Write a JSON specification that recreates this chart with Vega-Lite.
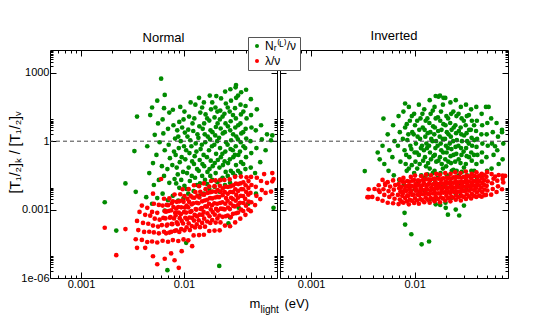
{
"$schema":"https://vega.github.io/schema/vega-lite/v6.json",
"background":"white",
"padding":{"left":7,"top":29,"right":0,"bottom":0},
"spacing":0,
"config":{"font":"Liberation Sans","view":{"stroke":"black","strokeWidth":1},
"axis":{"domain":false,"grid":false,"tickColor":"black","tickWidth":1,"labelFontSize":11,"labelColor":"black","titleColor":"black","titleFontWeight":"normal","labelOverlap":false,"labelFlush":false},
"title":{"fontSize":13,"fontWeight":"normal","color":"black"},
"legend":{"symbolType":"circle","symbolStrokeWidth":0,"symbolSize":16,"labelFontSize":12,"labelColor":"black","fillColor":"white","strokeColor":"#555","padding":3,"rowPadding":3,"labelOffset":2}},
"datasets":{
"normal":[
{"s":"N","x":0.0017,"y":0.0021},{"s":"N","x":0.0022,"y":0.00012},{"s":"N","x":0.0027,"y":0.014},{"s":"N","x":0.0069,"y":2.2e-6},{"s":"N","x":0.022,"y":3.4e-6},{"s":"N","x":0.006,"y":550},{"s":"N","x":0.032,"y":290},{"s":"N","x":0.0065,"y":107},{"s":"N","x":0.074,"y":0.0012},{"s":"N","x":0.0034,"y":0.006},{"s":"N","x":0.0035,"y":12},{"s":"N","x":0.0033,"y":0.37},
{"s":"N","x":0.027,"y":2.5e-4},{"s":"N","x":0.028,"y":4.5e-4},{"s":"N","x":0.0105,"y":3.5e-5},{"s":"N","x":0.034,"y":1.2e-3},{"s":"N","x":0.042,"y":0.0018},{"s":"N","x":0.0065,"y":0.0009},{"s":"N","x":0.05,"y":0.005},
{"s":"N","x":0.0043,"y":0.0035},{"s":"N","x":0.0046,"y":0.04},{"s":"N","x":0.0044,"y":0.6},{"s":"N","x":0.0047,"y":14},
{"s":"N","x":0.0049,"y":0.0018},{"s":"N","x":0.0051,"y":0.012},{"s":"N","x":0.005,"y":0.11},{"s":"N","x":0.0052,"y":1.9},{"s":"N","x":0.0049,"y":30},
{"s":"N","x":0.0055,"y":0.0032},{"s":"N","x":0.0057,"y":0.02},{"s":"N","x":0.0054,"y":0.25},{"s":"N","x":0.0058,"y":0.9},{"s":"N","x":0.0056,"y":6},{"s":"N","x":0.0055,"y":60},
{"s":"N","x":0.0062,"y":0.005},{"s":"N","x":0.0064,"y":0.03},{"s":"N","x":0.0061,"y":0.08},{"s":"N","x":0.0065,"y":0.4},{"s":"N","x":0.0063,"y":2.2},{"s":"N","x":0.0062,"y":9},{"s":"N","x":0.0064,"y":28},
{"s":"N","x":0.007,"y":0.0026},{"s":"N","x":0.0072,"y":0.015},{"s":"N","x":0.0069,"y":0.06},{"s":"N","x":0.0073,"y":0.18},{"s":"N","x":0.0071,"y":0.7},{"s":"N","x":0.007,"y":3.5},{"s":"N","x":0.0072,"y":18},
{"s":"N","x":0.0078,"y":0.004},{"s":"N","x":0.0081,"y":0.022},{"s":"N","x":0.0077,"y":0.09},{"s":"N","x":0.008,"y":0.35},{"s":"N","x":0.0082,"y":1.3},{"s":"N","x":0.0079,"y":5},{"s":"N","x":0.0078,"y":24},
{"s":"N","x":0.0088,"y":0.0025},{"s":"N","x":0.009,"y":0.009},{"s":"N","x":0.0087,"y":0.035},{"s":"N","x":0.0091,"y":0.12},{"s":"N","x":0.0089,"y":0.5},{"s":"N","x":0.0088,"y":1.6},{"s":"N","x":0.009,"y":7},{"s":"N","x":0.0092,"y":32},
{"s":"N","x":0.0099,"y":0.0032},{"s":"N","x":0.0101,"y":0.011},{"s":"N","x":0.0098,"y":0.045},{"s":"N","x":0.0103,"y":0.16},{"s":"N","x":0.01,"y":0.6},{"s":"N","x":0.0102,"y":2.4},{"s":"N","x":0.0099,"y":9},{"s":"N","x":0.0101,"y":20},
{"s":"N","x":0.011,"y":0.005},{"s":"N","x":0.0114,"y":0.018},{"s":"N","x":0.0111,"y":0.07},{"s":"N","x":0.0113,"y":0.3},{"s":"N","x":0.0115,"y":1.1},{"s":"N","x":0.011,"y":3.2},{"s":"N","x":0.0112,"y":12},{"s":"N","x":0.0116,"y":50},
{"s":"N","x":0.0124,"y":0.0065},{"s":"N","x":0.0128,"y":0.025},{"s":"N","x":0.0125,"y":0.1},{"s":"N","x":0.0127,"y":0.22},{"s":"N","x":0.013,"y":0.8},{"s":"N","x":0.0123,"y":2.8},{"s":"N","x":0.0126,"y":10},{"s":"N","x":0.0129,"y":40},
{"s":"N","x":0.014,"y":0.004},{"s":"N","x":0.0143,"y":0.014},{"s":"N","x":0.0139,"y":0.05},{"s":"N","x":0.0142,"y":0.15},{"s":"N","x":0.0145,"y":0.45},{"s":"N","x":0.0138,"y":1.4},{"s":"N","x":0.0141,"y":4.5},{"s":"N","x":0.0144,"y":18},{"s":"N","x":0.014,"y":80},
{"s":"N","x":0.0156,"y":0.005},{"s":"N","x":0.016,"y":0.02},{"s":"N","x":0.0157,"y":0.08},{"s":"N","x":0.0155,"y":0.25},{"s":"N","x":0.0161,"y":0.9},{"s":"N","x":0.0159,"y":2},{"s":"N","x":0.0157,"y":6},{"s":"N","x":0.0162,"y":15},{"s":"N","x":0.0156,"y":50},
{"s":"N","x":0.0176,"y":0.008},{"s":"N","x":0.018,"y":0.03},{"s":"N","x":0.0177,"y":0.06},{"s":"N","x":0.0182,"y":0.14},{"s":"N","x":0.0175,"y":0.4},{"s":"N","x":0.0179,"y":1.2},{"s":"N","x":0.0181,"y":3},{"s":"N","x":0.0176,"y":8},{"s":"N","x":0.0183,"y":25},{"s":"N","x":0.0178,"y":100},
{"s":"N","x":0.0198,"y":0.01},{"s":"N","x":0.0203,"y":0.04},{"s":"N","x":0.0199,"y":0.11},{"s":"N","x":0.0205,"y":0.28},{"s":"N","x":0.0197,"y":0.7},{"s":"N","x":0.0201,"y":1.8},{"s":"N","x":0.0204,"y":4.2},{"s":"N","x":0.0198,"y":11},{"s":"N","x":0.0202,"y":30},{"s":"N","x":0.0206,"y":95},
{"s":"N","x":0.0222,"y":0.006},{"s":"N","x":0.0226,"y":0.02},{"s":"N","x":0.0221,"y":0.07},{"s":"N","x":0.0228,"y":0.2},{"s":"N","x":0.0224,"y":0.5},{"s":"N","x":0.0219,"y":1.4},{"s":"N","x":0.0227,"y":3.6},{"s":"N","x":0.0223,"y":9},{"s":"N","x":0.0225,"y":22},{"s":"N","x":0.0229,"y":75},
{"s":"N","x":0.025,"y":0.012},{"s":"N","x":0.0254,"y":0.045},{"s":"N","x":0.0248,"y":0.13},{"s":"N","x":0.0252,"y":0.35},{"s":"N","x":0.0256,"y":0.9},{"s":"N","x":0.0249,"y":2.5},{"s":"N","x":0.0253,"y":6},{"s":"N","x":0.0247,"y":16},{"s":"N","x":0.0255,"y":45},{"s":"N","x":0.0251,"y":150},
{"s":"N","x":0.028,"y":0.015},{"s":"N","x":0.0285,"y":0.05},{"s":"N","x":0.0279,"y":0.16},{"s":"N","x":0.0283,"y":0.45},{"s":"N","x":0.0287,"y":1.1},{"s":"N","x":0.0281,"y":3},{"s":"N","x":0.0284,"y":7.5},{"s":"N","x":0.0278,"y":20},{"s":"N","x":0.0286,"y":60},{"s":"N","x":0.0282,"y":190},
{"s":"N","x":0.0314,"y":0.03},{"s":"N","x":0.032,"y":0.09},{"s":"N","x":0.0312,"y":0.25},{"s":"N","x":0.0318,"y":0.6},{"s":"N","x":0.0322,"y":1.6},{"s":"N","x":0.0315,"y":4},{"s":"N","x":0.0319,"y":10},{"s":"N","x":0.0313,"y":28},{"s":"N","x":0.0321,"y":80},{"s":"N","x":0.0317,"y":230},
{"s":"N","x":0.0352,"y":0.04},{"s":"N","x":0.0358,"y":0.12},{"s":"N","x":0.035,"y":0.35},{"s":"N","x":0.0356,"y":0.9},{"s":"N","x":0.036,"y":2.2},{"s":"N","x":0.0353,"y":6},{"s":"N","x":0.0357,"y":15},{"s":"N","x":0.0354,"y":40},{"s":"N","x":0.0359,"y":140},
{"s":"N","x":0.0395,"y":0.06},{"s":"N","x":0.04,"y":0.2},{"s":"N","x":0.0393,"y":0.5},{"s":"N","x":0.0402,"y":1.3},{"s":"N","x":0.0397,"y":3.5},{"s":"N","x":0.0405,"y":10},{"s":"N","x":0.0396,"y":35},{"s":"N","x":0.0401,"y":180},
{"s":"N","x":0.0445,"y":0.07},{"s":"N","x":0.045,"y":0.3},{"s":"N","x":0.0442,"y":1},{"s":"N","x":0.0452,"y":4},{"s":"N","x":0.0448,"y":14},{"s":"N","x":0.0446,"y":70},
{"s":"N","x":0.049,"y":0.04},{"s":"N","x":0.0505,"y":0.5},{"s":"N","x":0.0498,"y":3},{"s":"N","x":0.051,"y":25},
{"s":"N","x":0.055,"y":0.12},{"s":"N","x":0.057,"y":1.2},{"s":"N","x":0.056,"y":5},
{"s":"N","x":0.062,"y":0.4},{"s":"N","x":0.064,"y":2},{"s":"N","x":0.07,"y":1.1},{"s":"N","x":0.072,"y":1.8},
{"s":"N","x":0.0084,"y":0.014},{"s":"N","x":0.0085,"y":0.07},{"s":"N","x":0.0083,"y":0.25},{"s":"N","x":0.0086,"y":3},
{"s":"N","x":0.0094,"y":0.02},{"s":"N","x":0.0095,"y":0.2},{"s":"N","x":0.0093,"y":1.0},{"s":"N","x":0.0096,"y":4},
{"s":"N","x":0.0106,"y":0.008},{"s":"N","x":0.0107,"y":0.04},{"s":"N","x":0.0105,"y":0.4},{"s":"N","x":0.0108,"y":1.6},
{"s":"N","x":0.0119,"y":0.03},{"s":"N","x":0.012,"y":0.13},{"s":"N","x":0.0118,"y":0.6},{"s":"N","x":0.0121,"y":6},
{"s":"N","x":0.0133,"y":0.012},{"s":"N","x":0.0134,"y":0.06},{"s":"N","x":0.0132,"y":0.35},{"s":"N","x":0.0135,"y":2},
{"s":"N","x":0.015,"y":0.03},{"s":"N","x":0.0151,"y":0.1},{"s":"N","x":0.0149,"y":0.7},{"s":"N","x":0.0152,"y":3.5},{"s":"N","x":0.015,"y":30},
{"s":"N","x":0.0168,"y":0.013},{"s":"N","x":0.0169,"y":0.045},{"s":"N","x":0.0167,"y":0.2},{"s":"N","x":0.017,"y":1.6},{"s":"N","x":0.0168,"y":10},
{"s":"N","x":0.0188,"y":0.02},{"s":"N","x":0.019,"y":0.08},{"s":"N","x":0.0187,"y":0.6},{"s":"N","x":0.0189,"y":2.5},{"s":"N","x":0.0188,"y":50},
{"s":"N","x":0.0211,"y":0.016},{"s":"N","x":0.0213,"y":0.15},{"s":"N","x":0.021,"y":1.0},{"s":"N","x":0.0212,"y":6},{"s":"N","x":0.0211,"y":20},
{"s":"N","x":0.0237,"y":0.025},{"s":"N","x":0.0239,"y":0.09},{"s":"N","x":0.0236,"y":0.28},{"s":"N","x":0.0238,"y":2.2},{"s":"N","x":0.0237,"y":12},
{"s":"N","x":0.0266,"y":0.03},{"s":"N","x":0.0268,"y":0.11},{"s":"N","x":0.0265,"y":0.7},{"s":"N","x":0.0267,"y":4.5},{"s":"N","x":0.0266,"y":30},
{"s":"N","x":0.0299,"y":0.04},{"s":"N","x":0.0301,"y":0.2},{"s":"N","x":0.0298,"y":0.4},{"s":"N","x":0.03,"y":2},{"s":"N","x":0.0299,"y":14},
{"s":"N","x":0.0335,"y":0.05},{"s":"N","x":0.0337,"y":0.25},{"s":"N","x":0.0334,"y":1.2},{"s":"N","x":0.0336,"y":5},{"s":"N","x":0.0335,"y":100},
{"s":"N","x":0.0376,"y":0.1},{"s":"N","x":0.0378,"y":0.6},{"s":"N","x":0.0375,"y":2.5},{"s":"N","x":0.0377,"y":20},
{"s":"L","x":0.0034,"y":5.0e-5},{"s":"L","x":0.0036,"y":1.26e-4},{"s":"L","x":0.0035,"y":3.2e-4},{"s":"L","x":0.0037,"y":7.9e-4},
{"s":"L","x":0.0039,"y":4.7e-5},{"s":"L","x":0.0041,"y":1.05e-4},{"s":"L","x":0.004,"y":2.6e-4},{"s":"L","x":0.0042,"y":5.9e-4},{"s":"L","x":0.0039,"y":1.5e-3},
{"s":"L","x":0.0044,"y":3.8e-5},{"s":"L","x":0.0046,"y":1.07e-4},{"s":"L","x":0.0045,"y":2.4e-4},{"s":"L","x":0.0047,"y":5.4e-4},{"s":"L","x":0.0044,"y":1.2e-3},
{"s":"L","x":0.0049,"y":4.0e-5},{"s":"L","x":0.0051,"y":1.0e-4},{"s":"L","x":0.005,"y":2.0e-4},{"s":"L","x":0.0052,"y":4.0e-4},{"s":"L","x":0.0049,"y":7.9e-4},{"s":"L","x":0.0051,"y":1.8e-3},
{"s":"L","x":0.0055,"y":3.6e-5},{"s":"L","x":0.0057,"y":9.1e-5},{"s":"L","x":0.0056,"y":1.8e-4},{"s":"L","x":0.0058,"y":3.6e-4},{"s":"L","x":0.0055,"y":7.2e-4},{"s":"L","x":0.0057,"y":1.6e-3},
{"s":"L","x":0.0062,"y":4.3e-5},{"s":"L","x":0.0064,"y":1.07e-4},{"s":"L","x":0.0061,"y":2.1e-4},{"s":"L","x":0.0063,"y":4.3e-4},{"s":"L","x":0.0065,"y":8.5e-4},{"s":"L","x":0.0062,"y":1.5e-3},{"s":"L","x":0.0064,"y":3.0e-3},
{"s":"L","x":0.007,"y":3.9e-5},{"s":"L","x":0.0072,"y":9.8e-5},{"s":"L","x":0.0069,"y":2.2e-4},{"s":"L","x":0.0073,"y":4.4e-4},{"s":"L","x":0.0071,"y":8.7e-4},{"s":"L","x":0.007,"y":1.55e-3},{"s":"L","x":0.0072,"y":3.1e-3},
{"s":"L","x":0.0078,"y":4.6e-5},{"s":"L","x":0.0081,"y":1.15e-4},{"s":"L","x":0.0077,"y":2.3e-4},{"s":"L","x":0.008,"y":4.1e-4},{"s":"L","x":0.0082,"y":7.2e-4},{"s":"L","x":0.0079,"y":1.3e-3},{"s":"L","x":0.0078,"y":2.3e-3},{"s":"L","x":0.0081,"y":4.6e-3},
{"s":"L","x":0.0088,"y":4.2e-5},{"s":"L","x":0.009,"y":1.05e-4},{"s":"L","x":0.0087,"y":2.3e-4},{"s":"L","x":0.0091,"y":4.2e-4},{"s":"L","x":0.0089,"y":7.4e-4},{"s":"L","x":0.0088,"y":1.3e-3},{"s":"L","x":0.009,"y":2.3e-3},{"s":"L","x":0.0092,"y":4.7e-3},
{"s":"L","x":0.0099,"y":4.9e-5},{"s":"L","x":0.0101,"y":1.23e-4},{"s":"L","x":0.0098,"y":2.45e-4},{"s":"L","x":0.0103,"y":4.4e-4},{"s":"L","x":0.01,"y":7.8e-4},{"s":"L","x":0.0102,"y":1.23e-3},{"s":"L","x":0.0099,"y":2.2e-3},{"s":"L","x":0.0101,"y":3.9e-3},{"s":"L","x":0.0097,"y":7.8e-3},
{"s":"L","x":0.011,"y":4.5e-5},{"s":"L","x":0.0114,"y":1.26e-4},{"s":"L","x":0.0111,"y":2.5e-4},{"s":"L","x":0.0113,"y":4.5e-4},{"s":"L","x":0.0115,"y":7.9e-4},{"s":"L","x":0.011,"y":1.26e-3},{"s":"L","x":0.0112,"y":2.2e-3},{"s":"L","x":0.0116,"y":4.0e-3},{"s":"L","x":0.0111,"y":7.9e-3},
{"s":"L","x":0.0124,"y":7.4e-5},{"s":"L","x":0.0128,"y":1.66e-4},{"s":"L","x":0.0125,"y":3.3e-4},{"s":"L","x":0.0127,"y":5.9e-4},{"s":"L","x":0.013,"y":1.05e-3},{"s":"L","x":0.0123,"y":1.9e-3},{"s":"L","x":0.0126,"y":3.3e-3},{"s":"L","x":0.0129,"y":5.9e-3},{"s":"L","x":0.0125,"y":1.17e-2},
{"s":"L","x":0.014,"y":7.6e-5},{"s":"L","x":0.0143,"y":1.7e-4},{"s":"L","x":0.0139,"y":3.4e-4},{"s":"L","x":0.0142,"y":6.0e-4},{"s":"L","x":0.0145,"y":1.07e-3},{"s":"L","x":0.0138,"y":1.9e-3},{"s":"L","x":0.0141,"y":3.4e-3},{"s":"L","x":0.0144,"y":6.0e-3},{"s":"L","x":0.014,"y":1.07e-2},
{"s":"L","x":0.0156,"y":7.9e-5},{"s":"L","x":0.016,"y":1.78e-4},{"s":"L","x":0.0157,"y":4.0e-4},{"s":"L","x":0.0155,"y":7.9e-4},{"s":"L","x":0.0161,"y":1.4e-3},{"s":"L","x":0.0159,"y":2.5e-3},{"s":"L","x":0.0157,"y":4.5e-3},{"s":"L","x":0.0162,"y":7.9e-3},{"s":"L","x":0.0156,"y":1.4e-2},
{"s":"L","x":0.0176,"y":1.15e-4},{"s":"L","x":0.018,"y":2.6e-4},{"s":"L","x":0.0177,"y":5.1e-4},{"s":"L","x":0.0182,"y":1.02e-3},{"s":"L","x":0.0175,"y":1.8e-3},{"s":"L","x":0.0179,"y":3.2e-3},{"s":"L","x":0.0181,"y":5.8e-3},{"s":"L","x":0.0176,"y":1.02e-2},{"s":"L","x":0.0183,"y":1.8e-2},
{"s":"L","x":0.0198,"y":1.2e-4},{"s":"L","x":0.0203,"y":2.7e-4},{"s":"L","x":0.0199,"y":6.0e-4},{"s":"L","x":0.0205,"y":1.07e-3},{"s":"L","x":0.0197,"y":1.9e-3},{"s":"L","x":0.0201,"y":3.4e-3},{"s":"L","x":0.0204,"y":6.0e-3},{"s":"L","x":0.0198,"y":1.07e-2},{"s":"L","x":0.0202,"y":1.9e-2},
{"s":"L","x":0.0222,"y":1.23e-4},{"s":"L","x":0.0226,"y":2.75e-4},{"s":"L","x":0.0221,"y":5.5e-4},{"s":"L","x":0.0228,"y":1.1e-3},{"s":"L","x":0.0224,"y":1.95e-3},{"s":"L","x":0.0219,"y":3.5e-3},{"s":"L","x":0.0227,"y":6.2e-3},{"s":"L","x":0.0223,"y":1.1e-2},{"s":"L","x":0.0225,"y":1.95e-2},
{"s":"L","x":0.025,"y":2.0e-4},{"s":"L","x":0.0254,"y":5.1e-4},{"s":"L","x":0.0248,"y":1.02e-3},{"s":"L","x":0.0252,"y":1.8e-3},{"s":"L","x":0.0256,"y":3.2e-3},{"s":"L","x":0.0249,"y":5.8e-3},{"s":"L","x":0.0253,"y":1.02e-2},{"s":"L","x":0.0247,"y":2.0e-2},
{"s":"L","x":0.028,"y":1.86e-4},{"s":"L","x":0.0285,"y":4.7e-4},{"s":"L","x":0.0279,"y":1.05e-3},{"s":"L","x":0.0283,"y":1.86e-3},{"s":"L","x":0.0287,"y":3.3e-3},{"s":"L","x":0.0281,"y":5.9e-3},{"s":"L","x":0.0284,"y":1.05e-2},{"s":"L","x":0.0278,"y":2.1e-2},
{"s":"L","x":0.0314,"y":2.75e-4},{"s":"L","x":0.032,"y":6.9e-4},{"s":"L","x":0.0312,"y":1.38e-3},{"s":"L","x":0.0318,"y":2.45e-3},{"s":"L","x":0.0322,"y":4.4e-3},{"s":"L","x":0.0315,"y":7.8e-3},{"s":"L","x":0.0319,"y":1.38e-2},{"s":"L","x":0.0313,"y":2.75e-2},
{"s":"L","x":0.0352,"y":4.0e-4},{"s":"L","x":0.0358,"y":1.0e-3},{"s":"L","x":0.035,"y":2.0e-3},{"s":"L","x":0.0356,"y":4.0e-3},{"s":"L","x":0.036,"y":7.9e-3},{"s":"L","x":0.0353,"y":1.41e-2},{"s":"L","x":0.0357,"y":2.8e-2},
{"s":"L","x":0.0395,"y":5.9e-4},{"s":"L","x":0.04,"y":1.48e-3},{"s":"L","x":0.0393,"y":2.95e-3},{"s":"L","x":0.0402,"y":5.9e-3},{"s":"L","x":0.0397,"y":1.17e-2},{"s":"L","x":0.0405,"y":2.6e-2},
{"s":"L","x":0.0445,"y":8.5e-4},{"s":"L","x":0.045,"y":2.1e-3},{"s":"L","x":0.0442,"y":5.4e-3},{"s":"L","x":0.0452,"y":1.2e-2},{"s":"L","x":0.0448,"y":2.7e-2},
{"s":"L","x":0.049,"y":1.58e-3},{"s":"L","x":0.0505,"y":4.0e-3},{"s":"L","x":0.0498,"y":1.0e-2},{"s":"L","x":0.051,"y":2.5e-2},
{"s":"L","x":0.055,"y":2.9e-3},{"s":"L","x":0.057,"y":7.2e-3},{"s":"L","x":0.056,"y":1.8e-2},
{"s":"L","x":0.062,"y":5.4e-3},{"s":"L","x":0.064,"y":1.5e-2},{"s":"L","x":0.07,"y":6.2e-3},{"s":"L","x":0.072,"y":1.74e-2},
{"s":"L","x":0.0017,"y":1.6e-4},{"s":"L","x":0.0027,"y":1.4e-4},{"s":"L","x":0.0022,"y":1e-5},{"s":"L","x":0.0035,"y":2.1e-5},{"s":"L","x":0.0089,"y":2.8e-6},{"s":"L","x":0.06,"y":0.036},{"s":"L","x":0.0042,"y":2.1e-5},{"s":"L","x":0.005,"y":9e-6},{"s":"L","x":0.0055,"y":4e-6},{"s":"L","x":0.0065,"y":7e-6},{"s":"L","x":0.0075,"y":1.2e-5},{"s":"L","x":0.0081,"y":6e-6},{"s":"L","x":0.0095,"y":1.5e-5},{"s":"L","x":0.012,"y":2.5e-5},{"s":"L","x":0.006,"y":0.022},{"s":"L","x":0.005,"y":0.005},{"s":"L","x":0.074,"y":0.022},{"s":"L","x":0.072,"y":0.04},
{"s":"L","x":0.0067,"y":9.1e-5},{"s":"L","x":0.0068,"y":2.0e-4},{"s":"L","x":0.0066,"y":4.1e-4},{"s":"L","x":0.0067,"y":8.1e-4},{"s":"L","x":0.0068,"y":1.6e-3},
{"s":"L","x":0.0075,"y":1.05e-4},{"s":"L","x":0.0076,"y":2.35e-4},{"s":"L","x":0.0074,"y":4.7e-4},{"s":"L","x":0.0075,"y":9.3e-4},{"s":"L","x":0.0076,"y":1.9e-3},
{"s":"L","x":0.0084,"y":1.23e-4},{"s":"L","x":0.0085,"y":2.75e-4},{"s":"L","x":0.0083,"y":5.5e-4},{"s":"L","x":0.0084,"y":1.1e-3},{"s":"L","x":0.0085,"y":2.2e-3},
{"s":"L","x":0.0094,"y":1.41e-4},{"s":"L","x":0.0095,"y":3.2e-4},{"s":"L","x":0.0093,"y":6.3e-4},{"s":"L","x":0.0094,"y":1.26e-3},{"s":"L","x":0.0096,"y":2.5e-3},
{"s":"L","x":0.0106,"y":1.66e-4},{"s":"L","x":0.0107,"y":3.7e-4},{"s":"L","x":0.0105,"y":7.4e-4},{"s":"L","x":0.0106,"y":1.48e-3},{"s":"L","x":0.0108,"y":2.95e-3},
{"s":"L","x":0.0119,"y":1.9e-4},{"s":"L","x":0.012,"y":4.3e-4},{"s":"L","x":0.0118,"y":8.5e-4},{"s":"L","x":0.0119,"y":1.7e-3},{"s":"L","x":0.0121,"y":3.4e-3},
{"s":"L","x":0.0133,"y":2.24e-4},{"s":"L","x":0.0134,"y":5.0e-4},{"s":"L","x":0.0132,"y":1.0e-3},{"s":"L","x":0.0133,"y":2.0e-3},{"s":"L","x":0.0135,"y":4.0e-3},
{"s":"L","x":0.015,"y":2.6e-4},{"s":"L","x":0.0151,"y":5.8e-4},{"s":"L","x":0.0149,"y":1.15e-3},{"s":"L","x":0.015,"y":2.3e-3},{"s":"L","x":0.0152,"y":4.6e-3},
{"s":"L","x":0.0168,"y":3.0e-4},{"s":"L","x":0.0169,"y":6.8e-4},{"s":"L","x":0.0167,"y":1.35e-3},{"s":"L","x":0.0168,"y":2.7e-3},{"s":"L","x":0.017,"y":5.4e-3},
{"s":"L","x":0.0188,"y":3.5e-4},{"s":"L","x":0.019,"y":7.8e-4},{"s":"L","x":0.0187,"y":1.55e-3},{"s":"L","x":0.0188,"y":3.1e-3},{"s":"L","x":0.0189,"y":6.2e-3},
{"s":"L","x":0.0211,"y":4.1e-4},{"s":"L","x":0.0213,"y":9.1e-4},{"s":"L","x":0.021,"y":1.8e-3},{"s":"L","x":0.0211,"y":3.6e-3},{"s":"L","x":0.0212,"y":7.2e-3},
{"s":"L","x":0.0237,"y":4.8e-4},{"s":"L","x":0.0239,"y":1.07e-3},{"s":"L","x":0.0236,"y":2.1e-3},{"s":"L","x":0.0237,"y":4.3e-3},{"s":"L","x":0.0238,"y":8.5e-3},
{"s":"L","x":0.0266,"y":5.5e-4},{"s":"L","x":0.0268,"y":1.23e-3},{"s":"L","x":0.0265,"y":2.45e-3},{"s":"L","x":0.0266,"y":4.9e-3},{"s":"L","x":0.0267,"y":9.8e-3},
{"s":"L","x":0.0299,"y":6.5e-4},{"s":"L","x":0.0301,"y":1.45e-3},{"s":"L","x":0.0298,"y":2.9e-3},{"s":"L","x":0.0299,"y":5.8e-3},{"s":"L","x":0.03,"y":1.15e-2},
{"s":"L","x":0.0335,"y":7.4e-4},{"s":"L","x":0.0337,"y":1.66e-3},{"s":"L","x":0.0334,"y":3.3e-3},{"s":"L","x":0.0335,"y":6.6e-3},{"s":"L","x":0.0336,"y":1.32e-2},
{"s":"L","x":0.0376,"y":8.7e-4},{"s":"L","x":0.0378,"y":1.95e-3},{"s":"L","x":0.0375,"y":3.9e-3},{"s":"L","x":0.0376,"y":7.8e-3},{"s":"L","x":0.0377,"y":1.55e-2},
{"s":"L","x":0.0422,"y":1.0e-3},{"s":"L","x":0.0424,"y":2.24e-3},{"s":"L","x":0.0421,"y":4.5e-3},{"s":"L","x":0.0422,"y":8.9e-3},{"s":"L","x":0.0423,"y":1.78e-2}
],
"inverted":[
{"s":"N","x":0.0033,"y":0.049},{"s":"N","x":0.0081,"y":45},{"s":"N","x":0.005,"y":9.8},{"s":"N","x":0.0117,"y":3e-5},{"s":"N","x":0.0138,"y":4e-5},{"s":"N","x":0.0093,"y":8.3e-5},{"s":"N","x":0.0081,"y":2.2e-4},{"s":"N","x":0.008,"y":7.2e-4},{"s":"N","x":0.016,"y":96},{"s":"N","x":0.017,"y":90},{"s":"N","x":0.019,"y":80},{"s":"N","x":0.052,"y":32},{"s":"N","x":0.016,"y":1.7e-3},{"s":"N","x":0.02,"y":1.2e-3},{"s":"N","x":0.025,"y":1.0e-3},{"s":"N","x":0.03,"y":1.5e-3},{"s":"N","x":0.021,"y":6e-4},{"s":"N","x":0.027,"y":5.5e-4},{"s":"N","x":0.06,"y":0.6},{"s":"N","x":0.07,"y":2.5},
{"s":"N","x":0.0044,"y":0.32},{"s":"N","x":0.0046,"y":0.16},{"s":"N","x":0.0049,"y":0.63},{"s":"N","x":0.0051,"y":0.1},
{"s":"N","x":0.0055,"y":2.0},{"s":"N","x":0.0057,"y":0.4},{"s":"N","x":0.0056,"y":0.05},
{"s":"N","x":0.0062,"y":5.0},{"s":"N","x":0.0064,"y":1.0},{"s":"N","x":0.0061,"y":0.2},{"s":"N","x":0.0063,"y":0.032},
{"s":"N","x":0.007,"y":12.6},{"s":"N","x":0.0072,"y":2.5},{"s":"N","x":0.0069,"y":0.63},{"s":"N","x":0.0073,"y":0.126},{"s":"N","x":0.0071,"y":0.02},
{"s":"N","x":0.0078,"y":20},{"s":"N","x":0.0081,"y":4.0},{"s":"N","x":0.0077,"y":1.26},{"s":"N","x":0.008,"y":0.4},{"s":"N","x":0.0082,"y":0.1},{"s":"N","x":0.0079,"y":0.0126},
{"s":"N","x":0.0088,"y":32},{"s":"N","x":0.009,"y":7.9},{"s":"N","x":0.0087,"y":2.0},{"s":"N","x":0.0091,"y":0.63},{"s":"N","x":0.0089,"y":0.2},{"s":"N","x":0.0088,"y":0.063},{"s":"N","x":0.009,"y":0.01},
{"s":"N","x":0.0099,"y":15.8},{"s":"N","x":0.0101,"y":5.0},{"s":"N","x":0.0098,"y":2.0},{"s":"N","x":0.0103,"y":0.79},{"s":"N","x":0.01,"y":0.32},{"s":"N","x":0.0102,"y":0.126},{"s":"N","x":0.0099,"y":0.04},{"s":"N","x":0.0101,"y":0.0079},
{"s":"N","x":0.011,"y":40},{"s":"N","x":0.0114,"y":10},{"s":"N","x":0.0111,"y":3.16},{"s":"N","x":0.0113,"y":1.26},{"s":"N","x":0.0115,"y":0.5},{"s":"N","x":0.011,"y":0.25},{"s":"N","x":0.0112,"y":0.1},{"s":"N","x":0.0116,"y":0.032},{"s":"N","x":0.0111,"y":0.005},
{"s":"N","x":0.0124,"y":25},{"s":"N","x":0.0128,"y":7.9},{"s":"N","x":0.0125,"y":3.16},{"s":"N","x":0.0127,"y":1.58},{"s":"N","x":0.013,"y":0.79},{"s":"N","x":0.0123,"y":0.4},{"s":"N","x":0.0126,"y":0.2},{"s":"N","x":0.0129,"y":0.079},{"s":"N","x":0.0125,"y":0.025},{"s":"N","x":0.0127,"y":0.0063},
{"s":"N","x":0.014,"y":63},{"s":"N","x":0.0143,"y":15.8},{"s":"N","x":0.0139,"y":6.3},{"s":"N","x":0.0142,"y":2.5},{"s":"N","x":0.0145,"y":1.26},{"s":"N","x":0.0138,"y":0.63},{"s":"N","x":0.0141,"y":0.32},{"s":"N","x":0.0144,"y":0.16},{"s":"N","x":0.014,"y":0.063},{"s":"N","x":0.0142,"y":0.02},{"s":"N","x":0.0139,"y":0.0025},
{"s":"N","x":0.0156,"y":32},{"s":"N","x":0.016,"y":10},{"s":"N","x":0.0157,"y":4.0},{"s":"N","x":0.0155,"y":2.0},{"s":"N","x":0.0161,"y":1.0},{"s":"N","x":0.0159,"y":0.5},{"s":"N","x":0.0157,"y":0.25},{"s":"N","x":0.0162,"y":0.126},{"s":"N","x":0.0156,"y":0.05},{"s":"N","x":0.0158,"y":0.0158},{"s":"N","x":0.016,"y":0.0032},
{"s":"N","x":0.0176,"y":100},{"s":"N","x":0.018,"y":20},{"s":"N","x":0.0177,"y":7.9},{"s":"N","x":0.0182,"y":3.16},{"s":"N","x":0.0175,"y":1.58},{"s":"N","x":0.0179,"y":0.79},{"s":"N","x":0.0181,"y":0.4},{"s":"N","x":0.0176,"y":0.2},{"s":"N","x":0.0183,"y":0.1},{"s":"N","x":0.0178,"y":0.04},{"s":"N","x":0.018,"y":0.0126},{"s":"N","x":0.0177,"y":0.0016},
{"s":"N","x":0.0198,"y":79},{"s":"N","x":0.0203,"y":12.6},{"s":"N","x":0.0199,"y":5.0},{"s":"N","x":0.0205,"y":2.5},{"s":"N","x":0.0197,"y":1.26},{"s":"N","x":0.0201,"y":0.63},{"s":"N","x":0.0204,"y":0.32},{"s":"N","x":0.0198,"y":0.16},{"s":"N","x":0.0202,"y":0.079},{"s":"N","x":0.0206,"y":0.032},{"s":"N","x":0.02,"y":0.01},{"s":"N","x":0.0199,"y":0.002},
{"s":"N","x":0.0222,"y":50},{"s":"N","x":0.0226,"y":15.8},{"s":"N","x":0.0221,"y":6.3},{"s":"N","x":0.0228,"y":3.16},{"s":"N","x":0.0224,"y":1.58},{"s":"N","x":0.0219,"y":0.79},{"s":"N","x":0.0227,"y":0.45},{"s":"N","x":0.0223,"y":0.22},{"s":"N","x":0.0225,"y":0.11},{"s":"N","x":0.0229,"y":0.05},{"s":"N","x":0.0222,"y":0.0158},{"s":"N","x":0.0226,"y":0.0032},
{"s":"N","x":0.025,"y":63},{"s":"N","x":0.0254,"y":12.6},{"s":"N","x":0.0248,"y":5.0},{"s":"N","x":0.0252,"y":2.24},{"s":"N","x":0.0256,"y":1.12},{"s":"N","x":0.0249,"y":0.56},{"s":"N","x":0.0253,"y":0.28},{"s":"N","x":0.0247,"y":0.126},{"s":"N","x":0.0255,"y":0.05},{"s":"N","x":0.0251,"y":0.0158},{"s":"N","x":0.025,"y":0.005},
{"s":"N","x":0.028,"y":32},{"s":"N","x":0.0285,"y":10},{"s":"N","x":0.0279,"y":4.0},{"s":"N","x":0.0283,"y":2.0},{"s":"N","x":0.0287,"y":1.0},{"s":"N","x":0.0281,"y":0.5},{"s":"N","x":0.0284,"y":0.25},{"s":"N","x":0.0278,"y":0.11},{"s":"N","x":0.0286,"y":0.045},{"s":"N","x":0.0282,"y":0.0126},{"s":"N","x":0.028,"y":0.004},
{"s":"N","x":0.0314,"y":40},{"s":"N","x":0.032,"y":12.6},{"s":"N","x":0.0312,"y":5.0},{"s":"N","x":0.0318,"y":2.24},{"s":"N","x":0.0322,"y":1.0},{"s":"N","x":0.0315,"y":0.5},{"s":"N","x":0.0319,"y":0.22},{"s":"N","x":0.0313,"y":0.1},{"s":"N","x":0.0321,"y":0.032},{"s":"N","x":0.0317,"y":0.0079},
{"s":"N","x":0.0352,"y":25},{"s":"N","x":0.0358,"y":7.9},{"s":"N","x":0.035,"y":3.16},{"s":"N","x":0.0356,"y":1.41},{"s":"N","x":0.036,"y":0.63},{"s":"N","x":0.0353,"y":0.32},{"s":"N","x":0.0357,"y":0.14},{"s":"N","x":0.0354,"y":0.05},{"s":"N","x":0.0359,"y":0.0126},
{"s":"N","x":0.0395,"y":32},{"s":"N","x":0.04,"y":7.9},{"s":"N","x":0.0393,"y":2.8},{"s":"N","x":0.0402,"y":1.26},{"s":"N","x":0.0397,"y":0.56},{"s":"N","x":0.0405,"y":0.25},{"s":"N","x":0.0396,"y":0.1},{"s":"N","x":0.0401,"y":0.025},
{"s":"N","x":0.0445,"y":15.8},{"s":"N","x":0.045,"y":5.0},{"s":"N","x":0.0442,"y":2.0},{"s":"N","x":0.0452,"y":0.79},{"s":"N","x":0.0448,"y":0.32},{"s":"N","x":0.0446,"y":0.126},{"s":"N","x":0.0451,"y":0.032},
{"s":"N","x":0.049,"y":32},{"s":"N","x":0.0505,"y":6.3},{"s":"N","x":0.0498,"y":2.0},{"s":"N","x":0.051,"y":0.63},{"s":"N","x":0.0495,"y":0.2},{"s":"N","x":0.0502,"y":0.05},
{"s":"N","x":0.055,"y":10},{"s":"N","x":0.057,"y":2.5},{"s":"N","x":0.056,"y":0.79},{"s":"N","x":0.058,"y":0.25},{"s":"N","x":0.0555,"y":0.063},
{"s":"N","x":0.062,"y":6.3},{"s":"N","x":0.064,"y":1.58},{"s":"N","x":0.063,"y":0.4},{"s":"N","x":0.065,"y":0.1},
{"s":"N","x":0.07,"y":3.16},{"s":"N","x":0.072,"y":0.79},{"s":"N","x":0.071,"y":0.16},
{"s":"N","x":0.0084,"y":5.6},{"s":"N","x":0.0085,"y":1.12},{"s":"N","x":0.0083,"y":0.25},{"s":"N","x":0.0084,"y":0.05},
{"s":"N","x":0.0094,"y":12.6},{"s":"N","x":0.0095,"y":2.5},{"s":"N","x":0.0093,"y":0.45},{"s":"N","x":0.0094,"y":0.089},
{"s":"N","x":0.0106,"y":7.9},{"s":"N","x":0.0107,"y":1.58},{"s":"N","x":0.0105,"y":0.32},{"s":"N","x":0.0106,"y":0.063},{"s":"N","x":0.0108,"y":0.0158},
{"s":"N","x":0.0119,"y":15.8},{"s":"N","x":0.012,"y":4.0},{"s":"N","x":0.0118,"y":0.63},{"s":"N","x":0.0121,"y":0.14},
{"s":"N","x":0.0133,"y":10},{"s":"N","x":0.0134,"y":2.24},{"s":"N","x":0.0132,"y":0.5},{"s":"N","x":0.0135,"y":0.11},{"s":"N","x":0.0133,"y":0.035},
{"s":"N","x":0.015,"y":22},{"s":"N","x":0.0151,"y":4.5},{"s":"N","x":0.0149,"y":1.0},{"s":"N","x":0.0152,"y":0.22},{"s":"N","x":0.015,"y":0.04},
{"s":"N","x":0.0168,"y":11.2},{"s":"N","x":0.0169,"y":2.8},{"s":"N","x":0.0167,"y":0.63},{"s":"N","x":0.017,"y":0.14},{"s":"N","x":0.0168,"y":0.025},
{"s":"N","x":0.0188,"y":40},{"s":"N","x":0.019,"y":5.6},{"s":"N","x":0.0187,"y":1.26},{"s":"N","x":0.0189,"y":0.32},{"s":"N","x":0.0188,"y":0.063},
{"s":"N","x":0.0211,"y":10},{"s":"N","x":0.0213,"y":2.0},{"s":"N","x":0.021,"y":0.5},{"s":"N","x":0.0212,"y":0.126},{"s":"N","x":0.0211,"y":0.028},
{"s":"N","x":0.0237,"y":20},{"s":"N","x":0.0239,"y":4.0},{"s":"N","x":0.0236,"y":1.0},{"s":"N","x":0.0238,"y":0.25},{"s":"N","x":0.0237,"y":0.056},
{"s":"N","x":0.0266,"y":15.8},{"s":"N","x":0.0268,"y":2.8},{"s":"N","x":0.0265,"y":0.63},{"s":"N","x":0.0267,"y":0.16},{"s":"N","x":0.0266,"y":0.032},
{"s":"N","x":0.0299,"y":7.9},{"s":"N","x":0.0301,"y":1.78},{"s":"N","x":0.0298,"y":0.35},{"s":"N","x":0.03,"y":0.07},
{"s":"N","x":0.0335,"y":14},{"s":"N","x":0.0337,"y":3.16},{"s":"N","x":0.0334,"y":0.79},{"s":"N","x":0.0336,"y":0.2},
{"s":"N","x":0.0376,"y":5.0},{"s":"N","x":0.0378,"y":1.12},{"s":"N","x":0.0375,"y":0.25},{"s":"N","x":0.0377,"y":0.05},
{"s":"L","x":0.0036,"y":3.5e-3},{"s":"L","x":0.0045,"y":7e-3},{"s":"L","x":0.0049,"y":2e-2},{"s":"L","x":0.0052,"y":0.012},{"s":"L","x":0.071,"y":0.022},{"s":"L","x":0.075,"y":0.03},{"s":"L","x":0.06,"y":0.028},
{"s":"L","x":0.0035,"y":3.5e-3},{"s":"L","x":0.0036,"y":7.8e-3},
{"s":"L","x":0.0039,"y":3.6e-3},{"s":"L","x":0.0041,"y":8.0e-3},
{"s":"L","x":0.0044,"y":2.95e-3},{"s":"L","x":0.0046,"y":5.9e-3},{"s":"L","x":0.0045,"y":1.17e-2},
{"s":"L","x":0.0049,"y":2.45e-3},{"s":"L","x":0.0051,"y":4.4e-3},{"s":"L","x":0.005,"y":7.8e-3},{"s":"L","x":0.0052,"y":1.38e-2},
{"s":"L","x":0.0055,"y":2.0e-3},{"s":"L","x":0.0057,"y":3.6e-3},{"s":"L","x":0.0056,"y":6.5e-3},{"s":"L","x":0.0058,"y":1.02e-2},{"s":"L","x":0.0055,"y":1.6e-2},
{"s":"L","x":0.0062,"y":1.9e-3},{"s":"L","x":0.0064,"y":3.0e-3},{"s":"L","x":0.0061,"y":4.7e-3},{"s":"L","x":0.0063,"y":7.5e-3},{"s":"L","x":0.0065,"y":1.19e-2},{"s":"L","x":0.0062,"y":1.9e-2},
{"s":"L","x":0.007,"y":1.74e-3},{"s":"L","x":0.0072,"y":2.75e-3},{"s":"L","x":0.0069,"y":4.4e-3},{"s":"L","x":0.0073,"y":6.2e-3},{"s":"L","x":0.0071,"y":8.7e-3},{"s":"L","x":0.007,"y":1.32e-2},{"s":"L","x":0.0072,"y":2.1e-2},
{"s":"L","x":0.0078,"y":2.0e-3},{"s":"L","x":0.0081,"y":3.2e-3},{"s":"L","x":0.0077,"y":5.1e-3},{"s":"L","x":0.008,"y":7.2e-3},{"s":"L","x":0.0082,"y":1.02e-2},{"s":"L","x":0.0079,"y":1.55e-2},{"s":"L","x":0.0078,"y":2.45e-2},
{"s":"L","x":0.0088,"y":1.7e-3},{"s":"L","x":0.009,"y":2.7e-3},{"s":"L","x":0.0087,"y":4.0e-3},{"s":"L","x":0.0091,"y":5.8e-3},{"s":"L","x":0.0089,"y":8.1e-3},{"s":"L","x":0.0088,"y":1.15e-2},{"s":"L","x":0.009,"y":1.7e-2},{"s":"L","x":0.0092,"y":2.7e-2},
{"s":"L","x":0.0099,"y":1.97e-3},{"s":"L","x":0.0101,"y":3.1e-3},{"s":"L","x":0.0098,"y":4.6e-3},{"s":"L","x":0.0103,"y":6.7e-3},{"s":"L","x":0.01,"y":9.4e-3},{"s":"L","x":0.0102,"y":1.33e-2},{"s":"L","x":0.0099,"y":1.97e-2},{"s":"L","x":0.0101,"y":3.1e-2},
{"s":"L","x":0.011,"y":1.8e-3},{"s":"L","x":0.0114,"y":2.9e-3},{"s":"L","x":0.0111,"y":4.3e-3},{"s":"L","x":0.0113,"y":6.2e-3},{"s":"L","x":0.0115,"y":8.7e-3},{"s":"L","x":0.011,"y":1.23e-2},{"s":"L","x":0.0112,"y":1.8e-2},{"s":"L","x":0.0116,"y":2.9e-2},
{"s":"L","x":0.0124,"y":2.1e-3},{"s":"L","x":0.0128,"y":3.4e-3},{"s":"L","x":0.0125,"y":5.0e-3},{"s":"L","x":0.0127,"y":7.2e-3},{"s":"L","x":0.013,"y":1.02e-2},{"s":"L","x":0.0123,"y":1.45e-2},{"s":"L","x":0.0126,"y":2.1e-2},{"s":"L","x":0.0129,"y":3.4e-2},
{"s":"L","x":0.014,"y":2.0e-3},{"s":"L","x":0.0143,"y":3.2e-3},{"s":"L","x":0.0139,"y":4.7e-3},{"s":"L","x":0.0142,"y":6.8e-3},{"s":"L","x":0.0145,"y":9.5e-3},{"s":"L","x":0.0138,"y":1.35e-2},{"s":"L","x":0.0141,"y":2.0e-2},{"s":"L","x":0.0144,"y":3.2e-2},
{"s":"L","x":0.0156,"y":2.3e-3},{"s":"L","x":0.016,"y":3.7e-3},{"s":"L","x":0.0157,"y":5.4e-3},{"s":"L","x":0.0155,"y":7.9e-3},{"s":"L","x":0.0161,"y":1.11e-2},{"s":"L","x":0.0159,"y":1.57e-2},{"s":"L","x":0.0157,"y":2.3e-2},{"s":"L","x":0.0162,"y":3.7e-2},
{"s":"L","x":0.0176,"y":2.1e-3},{"s":"L","x":0.018,"y":3.4e-3},{"s":"L","x":0.0177,"y":5.0e-3},{"s":"L","x":0.0182,"y":7.2e-3},{"s":"L","x":0.0175,"y":1.02e-2},{"s":"L","x":0.0179,"y":1.45e-2},{"s":"L","x":0.0181,"y":2.1e-2},{"s":"L","x":0.0176,"y":3.4e-2},
{"s":"L","x":0.0198,"y":2.5e-3},{"s":"L","x":0.0203,"y":4.0e-3},{"s":"L","x":0.0199,"y":5.9e-3},{"s":"L","x":0.0205,"y":8.5e-3},{"s":"L","x":0.0197,"y":1.2e-2},{"s":"L","x":0.0201,"y":1.7e-2},{"s":"L","x":0.0204,"y":2.5e-2},{"s":"L","x":0.0198,"y":4.0e-2},
{"s":"L","x":0.0222,"y":2.3e-3},{"s":"L","x":0.0226,"y":3.7e-3},{"s":"L","x":0.0221,"y":5.4e-3},{"s":"L","x":0.0228,"y":7.9e-3},{"s":"L","x":0.0224,"y":1.11e-2},{"s":"L","x":0.0219,"y":1.57e-2},{"s":"L","x":0.0227,"y":2.3e-2},{"s":"L","x":0.0223,"y":3.7e-2},
{"s":"L","x":0.025,"y":2.7e-3},{"s":"L","x":0.0254,"y":4.3e-3},{"s":"L","x":0.0248,"y":6.3e-3},{"s":"L","x":0.0252,"y":9.1e-3},{"s":"L","x":0.0256,"y":1.29e-2},{"s":"L","x":0.0249,"y":1.8e-2},{"s":"L","x":0.0253,"y":2.7e-2},{"s":"L","x":0.0247,"y":4.3e-2},
{"s":"L","x":0.028,"y":2.5e-3},{"s":"L","x":0.0285,"y":4.0e-3},{"s":"L","x":0.0279,"y":5.9e-3},{"s":"L","x":0.0283,"y":8.5e-3},{"s":"L","x":0.0287,"y":1.2e-2},{"s":"L","x":0.0281,"y":1.7e-2},{"s":"L","x":0.0284,"y":2.5e-2},{"s":"L","x":0.0278,"y":4.0e-2},
{"s":"L","x":0.0314,"y":2.95e-3},{"s":"L","x":0.032,"y":4.7e-3},{"s":"L","x":0.0312,"y":6.9e-3},{"s":"L","x":0.0318,"y":1.0e-2},{"s":"L","x":0.0322,"y":1.41e-2},{"s":"L","x":0.0315,"y":2.0e-2},{"s":"L","x":0.0319,"y":2.95e-2},{"s":"L","x":0.0313,"y":4.7e-2},
{"s":"L","x":0.0352,"y":3.1e-3},{"s":"L","x":0.0358,"y":4.9e-3},{"s":"L","x":0.035,"y":7.8e-3},{"s":"L","x":0.0356,"y":1.1e-2},{"s":"L","x":0.036,"y":1.55e-2},{"s":"L","x":0.0353,"y":2.35e-2},{"s":"L","x":0.0357,"y":3.7e-2},
{"s":"L","x":0.0395,"y":3.6e-3},{"s":"L","x":0.04,"y":5.7e-3},{"s":"L","x":0.0393,"y":9.0e-3},{"s":"L","x":0.0402,"y":1.27e-2},{"s":"L","x":0.0397,"y":1.8e-2},{"s":"L","x":0.0405,"y":2.7e-2},{"s":"L","x":0.0396,"y":4.3e-2},
{"s":"L","x":0.0445,"y":3.7e-3},{"s":"L","x":0.045,"y":5.9e-3},{"s":"L","x":0.0442,"y":9.3e-3},{"s":"L","x":0.0452,"y":1.48e-2},{"s":"L","x":0.0448,"y":2.35e-2},{"s":"L","x":0.0446,"y":3.7e-2},
{"s":"L","x":0.049,"y":4.4e-3},{"s":"L","x":0.0505,"y":6.9e-3},{"s":"L","x":0.0498,"y":1.1e-2},{"s":"L","x":0.051,"y":1.74e-2},{"s":"L","x":0.0495,"y":2.75e-2},{"s":"L","x":0.0502,"y":4.4e-2},
{"s":"L","x":0.055,"y":4.5e-3},{"s":"L","x":0.057,"y":8.0e-3},{"s":"L","x":0.056,"y":1.43e-2},{"s":"L","x":0.058,"y":2.25e-2},{"s":"L","x":0.0555,"y":3.6e-2},
{"s":"L","x":0.062,"y":5.9e-3},{"s":"L","x":0.064,"y":1.05e-2},{"s":"L","x":0.063,"y":1.86e-2},{"s":"L","x":0.065,"y":3.3e-2},
{"s":"L","x":0.07,"y":7.8e-3},{"s":"L","x":0.072,"y":1.55e-2},{"s":"L","x":0.071,"y":3.1e-2},
{"s":"L","x":0.0075,"y":2.24e-3},{"s":"L","x":0.0076,"y":4.0e-3},{"s":"L","x":0.0074,"y":6.3e-3},{"s":"L","x":0.0075,"y":1.0e-2},{"s":"L","x":0.0076,"y":1.7e-2},
{"s":"L","x":0.0084,"y":2.3e-3},{"s":"L","x":0.0085,"y":4.2e-3},{"s":"L","x":0.0083,"y":6.6e-3},{"s":"L","x":0.0084,"y":1.05e-2},{"s":"L","x":0.0085,"y":1.78e-2},
{"s":"L","x":0.0094,"y":2.45e-3},{"s":"L","x":0.0095,"y":4.4e-3},{"s":"L","x":0.0093,"y":6.9e-3},{"s":"L","x":0.0094,"y":1.1e-2},{"s":"L","x":0.0096,"y":1.86e-2},
{"s":"L","x":0.0106,"y":2.5e-3},{"s":"L","x":0.0107,"y":4.5e-3},{"s":"L","x":0.0105,"y":7.1e-3},{"s":"L","x":0.0106,"y":1.12e-2},{"s":"L","x":0.0108,"y":1.9e-2},
{"s":"L","x":0.0119,"y":2.6e-3},{"s":"L","x":0.012,"y":4.7e-3},{"s":"L","x":0.0118,"y":7.4e-3},{"s":"L","x":0.0119,"y":1.17e-2},{"s":"L","x":0.0121,"y":2.0e-2},
{"s":"L","x":0.0133,"y":2.75e-3},{"s":"L","x":0.0134,"y":4.9e-3},{"s":"L","x":0.0132,"y":7.8e-3},{"s":"L","x":0.0133,"y":1.23e-2},{"s":"L","x":0.0135,"y":2.1e-2},
{"s":"L","x":0.015,"y":2.9e-3},{"s":"L","x":0.0151,"y":5.1e-3},{"s":"L","x":0.0149,"y":8.1e-3},{"s":"L","x":0.015,"y":1.29e-2},{"s":"L","x":0.0152,"y":2.2e-2},
{"s":"L","x":0.0168,"y":2.95e-3},{"s":"L","x":0.0169,"y":5.2e-3},{"s":"L","x":0.0167,"y":8.3e-3},{"s":"L","x":0.0168,"y":1.32e-2},{"s":"L","x":0.017,"y":2.25e-2},
{"s":"L","x":0.0188,"y":3.1e-3},{"s":"L","x":0.019,"y":5.5e-3},{"s":"L","x":0.0187,"y":8.7e-3},{"s":"L","x":0.0188,"y":1.38e-2},{"s":"L","x":0.0189,"y":2.35e-2},
{"s":"L","x":0.0211,"y":3.2e-3},{"s":"L","x":0.0213,"y":5.8e-3},{"s":"L","x":0.021,"y":9.1e-3},{"s":"L","x":0.0211,"y":1.45e-2},{"s":"L","x":0.0212,"y":2.45e-2},
{"s":"L","x":0.0237,"y":3.4e-3},{"s":"L","x":0.0239,"y":6.0e-3},{"s":"L","x":0.0236,"y":9.5e-3},{"s":"L","x":0.0237,"y":1.5e-2},{"s":"L","x":0.0238,"y":2.6e-2},
{"s":"L","x":0.0266,"y":3.5e-3},{"s":"L","x":0.0268,"y":6.2e-3},{"s":"L","x":0.0265,"y":9.8e-3},{"s":"L","x":0.0266,"y":1.55e-2},{"s":"L","x":0.0267,"y":2.6e-2},
{"s":"L","x":0.0299,"y":3.6e-3},{"s":"L","x":0.0301,"y":6.5e-3},{"s":"L","x":0.0298,"y":1.02e-2},{"s":"L","x":0.0299,"y":1.6e-2},{"s":"L","x":0.03,"y":2.75e-2},
{"s":"L","x":0.0335,"y":3.8e-3},{"s":"L","x":0.0337,"y":6.8e-3},{"s":"L","x":0.0334,"y":1.07e-2},{"s":"L","x":0.0335,"y":1.7e-2},{"s":"L","x":0.0336,"y":2.9e-2},
{"s":"L","x":0.0376,"y":4.0e-3},{"s":"L","x":0.0378,"y":7.1e-3},{"s":"L","x":0.0375,"y":1.12e-2},{"s":"L","x":0.0376,"y":1.78e-2},{"s":"L","x":0.0377,"y":3.0e-2},
{"s":"L","x":0.0422,"y":4.1e-3},{"s":"L","x":0.0424,"y":7.2e-3},{"s":"L","x":0.0421,"y":1.15e-2},{"s":"L","x":0.0422,"y":1.8e-2},{"s":"L","x":0.0423,"y":3.1e-2},
{"s":"L","x":0.0473,"y":4.3e-3},{"s":"L","x":0.0475,"y":7.6e-3},{"s":"L","x":0.0472,"y":1.2e-2},{"s":"L","x":0.0473,"y":1.9e-2},{"s":"L","x":0.0474,"y":3.2e-2}
]},
"hconcat":[
{"title":{"text":"Normal","offset":-10,"baseline":"alphabetic","frame":"group"},"width":227,"height":228,"data":{"name":"normal"},
"layer":[
{"mark":{"type":"point","filled":true,"size":22,"opacity":1,"strokeWidth":0},
"encoding":{
"x":{"field":"x","type":"quantitative","scale":{"type":"log","domain":[0.0005,0.08],"nice":false},
"axis":{"orient":"bottom","values":[0.0006,0.0007,0.0008,0.0009,0.001,0.002,0.003,0.004,0.005,0.006,0.007,0.008,0.009,0.01,0.02,0.03,0.04,0.05,0.06,0.07],
"tickSize":{"condition":{"test":"datum.value==0.001||datum.value==0.01","value":-6},"value":-3},
"labelExpr":"datum.value==0.001?'0.001':datum.value==0.01?'0.01':''","labelPadding":6,
"title":"m","titleFontSize":13,"titleX":199,"titleY":29,"titleAlign":"left","titleBaseline":"alphabetic"}},
"y":{"field":"y","type":"quantitative","scale":{"type":"log","domain":[0.000001,10000],"nice":false},
"axis":{"orient":"left","values":[0.000001,0.000002,0.000003,0.000004,0.000005,0.000006,0.000007,0.000008,0.000009,0.001,0.002,0.003,0.004,0.005,0.006,0.007,0.008,0.009,1,2,3,4,5,6,7,8,9,1000,2000,3000,4000,5000,6000,7000,8000,9000],
"tickSize":{"condition":{"test":"datum.value==0.000001||datum.value==0.001||datum.value==1||datum.value==1000","value":-6},"value":-3},
"labelExpr":"datum.value==1000?'1000':datum.value==1?'1':datum.value==0.001?'0.001':datum.value==0.000001?'1e-06':''","labelPadding":7,
"title":"[T₁/₂]ₖ / [T₁/₂]ᵥ","titleFontSize":14,"titleX":-35,"titleY":102,"titleAngle":-90,"titleAlign":"center","titleBaseline":"middle"}},
"color":{"field":"s","type":"nominal","scale":{"domain":["N","L"],"range":["#008b00","#ff0000"]},
"legend":{"title":null,"orient":"none","legendX":198,"legendY":-13,"labelExpr":"datum.value=='N'?'Nᵣ⁽ᴸ⁾/ν':'λ/ν'"}}}},
{"mark":{"type":"point","opacity":0},
"encoding":{
"x":{"field":"x","type":"quantitative","scale":{"type":"log","domain":[0.0005,0.08],"nice":false},
"axis":{"orient":"top","values":[0.0006,0.0007,0.0008,0.0009,0.001,0.002,0.003,0.004,0.005,0.006,0.007,0.008,0.009,0.01,0.02,0.03,0.04,0.05,0.06,0.07],
"tickSize":{"condition":{"test":"datum.value==0.001||datum.value==0.01","value":-6},"value":-3},"labels":false,
"title":"light","titleFontSize":10,"titleX":210,"titleY":262,"titleAlign":"left","titleBaseline":"alphabetic"}},
"y":{"field":"y","type":"quantitative","scale":{"type":"log","domain":[0.000001,10000],"nice":false},
"axis":{"orient":"right","values":[0.000001,0.000002,0.000003,0.000004,0.000005,0.000006,0.000007,0.000008,0.000009,0.001,0.002,0.003,0.004,0.005,0.006,0.007,0.008,0.009,1,2,3,4,5,6,7,8,9,1000,2000,3000,4000,5000,6000,7000,8000,9000],
"tickSize":{"condition":{"test":"datum.value==0.000001||datum.value==0.001||datum.value==1||datum.value==1000","value":-6},"value":-3},"labels":false,"title":null}}}},
{"data":{"values":[{"r":1}]},"mark":{"type":"rule","strokeDash":[4,3],"color":"#444","strokeWidth":1},
"encoding":{"y":{"field":"r","type":"quantitative","axis":null}}}
],
"resolve":{"axis":{"x":"independent","y":"independent"}}},
{"title":{"text":"Inverted","offset":-3,"baseline":"alphabetic","frame":"group"},"width":228,"height":228,"data":{"name":"inverted"},
"layer":[
{"mark":{"type":"point","filled":true,"size":22,"opacity":1,"strokeWidth":0},
"encoding":{
"x":{"field":"x","type":"quantitative","scale":{"type":"log","domain":[0.0005,0.08],"nice":false},
"axis":{"orient":"bottom","values":[0.0006,0.0007,0.0008,0.0009,0.001,0.002,0.003,0.004,0.005,0.006,0.007,0.008,0.009,0.01,0.02,0.03,0.04,0.05,0.06,0.07],
"tickSize":{"condition":{"test":"datum.value==0.001||datum.value==0.01","value":-6},"value":-3},
"labelExpr":"datum.value==0.001?'0.001':datum.value==0.01?'0.01':''","labelPadding":6,
"title":"(eV)","titleFontSize":13,"titleX":4,"titleY":29,"titleAlign":"left","titleBaseline":"alphabetic"}},
"y":{"field":"y","type":"quantitative","scale":{"type":"log","domain":[0.000001,10000],"nice":false},
"axis":{"orient":"left","values":[0.000001,0.000002,0.000003,0.000004,0.000005,0.000006,0.000007,0.000008,0.000009,0.001,0.002,0.003,0.004,0.005,0.006,0.007,0.008,0.009,1,2,3,4,5,6,7,8,9,1000,2000,3000,4000,5000,6000,7000,8000,9000],
"tickSize":{"condition":{"test":"datum.value==0.000001||datum.value==0.001||datum.value==1||datum.value==1000","value":-6},"value":-3},"labels":false,"title":null}},
"color":{"field":"s","type":"nominal","scale":{"domain":["N","L"],"range":["#008b00","#ff0000"]},
"legend":{"title":null,"orient":"none","legendX":198,"legendY":-13,"labelExpr":"datum.value=='N'?'Nᵣ⁽ᴸ⁾/ν':'λ/ν'"}}}},
{"mark":{"type":"point","opacity":0},
"encoding":{
"x":{"field":"x","type":"quantitative","scale":{"type":"log","domain":[0.0005,0.08],"nice":false},
"axis":{"orient":"top","values":[0.0006,0.0007,0.0008,0.0009,0.001,0.002,0.003,0.004,0.005,0.006,0.007,0.008,0.009,0.01,0.02,0.03,0.04,0.05,0.06,0.07],
"tickSize":{"condition":{"test":"datum.value==0.001||datum.value==0.01","value":-6},"value":-3},"labels":false,"title":null}},
"y":{"field":"y","type":"quantitative","scale":{"type":"log","domain":[0.000001,10000],"nice":false},
"axis":{"orient":"right","values":[0.000001,0.000002,0.000003,0.000004,0.000005,0.000006,0.000007,0.000008,0.000009,0.001,0.002,0.003,0.004,0.005,0.006,0.007,0.008,0.009,1,2,3,4,5,6,7,8,9,1000,2000,3000,4000,5000,6000,7000,8000,9000],
"tickSize":{"condition":{"test":"datum.value==0.000001||datum.value==0.001||datum.value==1||datum.value==1000","value":-6},"value":-3},"labels":false,"title":null}}}},
{"data":{"values":[{"r":1}]},"mark":{"type":"rule","strokeDash":[4,3],"color":"#444","strokeWidth":1},
"encoding":{"y":{"field":"r","type":"quantitative","axis":null}}}
],
"resolve":{"axis":{"x":"independent","y":"independent"}}}
]
}
